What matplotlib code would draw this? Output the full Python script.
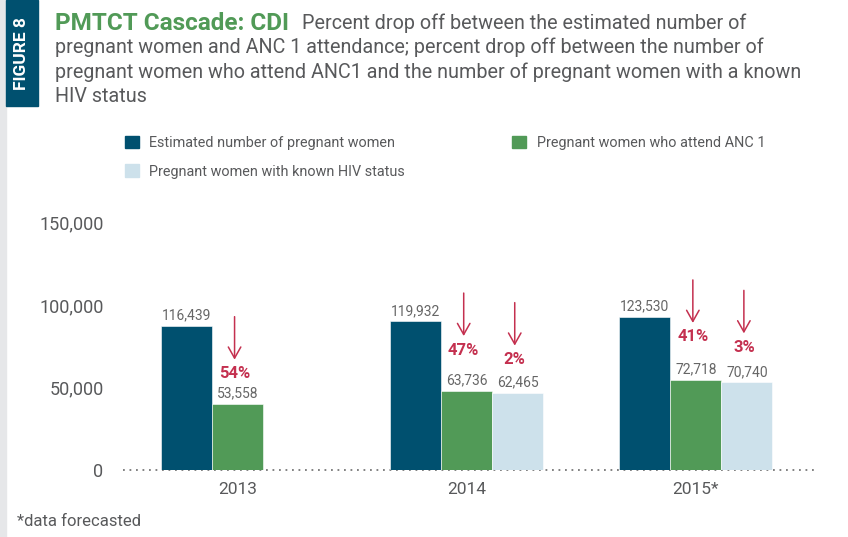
import matplotlib.pyplot as plt
from matplotlib.patches import Rectangle, Patch

years = ["2013", "2014", "2015*"]
estimated = [116439, 119932, 123530]
anc1 = [53558, 63736, 72718]
hiv_known = [None, 62465, 70740]
drop_anc1 = ["54%", "47%", "41%"]
drop_hiv = [None, "2%", "3%"]
tick_labels = ["0", "50,000", "100,000", "150,000"]
tick_values = [0, 50000, 100000, 150000]

DARK = "#00506f"
GREEN = "#519a57"
LIGHT = "#cde1eb"
RED = "#c4304f"
GREY = "#58595b"
FONT = "Roboto"

W, H = 848, 537
fig = plt.figure(figsize=(W / 100, H / 100), dpi=100)

# left grey strip and the "FIGURE 8" tab
fig.patches.append(Rectangle((0, 0), 6 / W, 1, transform=fig.transFigure,
                             color="#e6e7e9", zorder=0))
fig.patches.append(Rectangle((6 / W, 1 - 106 / H), 32 / W, 106 / H,
                             transform=fig.transFigure, color=DARK, zorder=1))
fig.text(22 / W, 1 - 54 / H, "FIGURE 8", rotation=90, color="white",
         fontsize=12.5, fontweight="bold", family=FONT,
         ha="center", va="center")

# title block
t = fig.text(55 / W, 1 - 23 / H, "PMTCT Cascade: CDI", color=GREEN,
             fontsize=17.5, fontweight="bold", family=FONT,
             ha="left", va="center")
fig.canvas.draw()
bb = t.get_window_extent()
sub = dict(color=GREY, fontsize=14.2, family=FONT, ha="left", va="center")
fig.text((bb.x1 + 13) / W, 1 - 23 / H,
         "Percent drop off between the estimated number of", **sub)
lines = ["pregnant women and ANC 1 attendance; percent drop off between the number of",
         "pregnant women who attend ANC1 and the number of pregnant women with a known",
         "HIV status"]
for k, line in enumerate(lines):
    fig.text(55 / W, 1 - (47.5 + 24.5 * k) / H, line, **sub)

# axes
ax = fig.add_axes([123 / W, 1 - 470 / H, (815 - 123) / W, 270 / H])
ymax = 218000
ax.set_ylim(0, ymax)
ax.set_xlim(-0.5, 2.52)
for s in ax.spines.values():
    s.set_visible(False)
ax.axhline(0, color="#777777", lw=1.3, ls=(0, (1, 2.6)), zorder=1, clip_on=False)

w = 51 / 229
px = ymax / 270  # data units per pixel

for i in range(len(years)):
    series = [(estimated[i], DARK), (anc1[i], GREEN), (hiv_known[i], LIGHT)]
    for j, (v, c) in enumerate(series):
        if v is None:
            continue
        x = i + (j - 1) * w
        ax.bar(x, v, width=w, color=c, edgecolor="white", linewidth=0.4, zorder=2)
        ax.annotate(f"{v:,}", (x, v), xytext=(0, 2.5), textcoords="offset points",
                    ha="center", va="bottom", fontsize=10, color="#666666",
                    family=FONT)

# drop-off arrows
pct_off = [[30, 41, 43], [None, 33, 35]]
for row, (labels, base) in enumerate([(drop_anc1, anc1), (drop_hiv, hiv_known)]):
    for i, lab in enumerate(labels):
        if lab is None:
            continue
        x = i + row * w - 3 / 229
        y = base[i] + pct_off[row][i] * px
        ax.text(x, y, lab, ha="center", va="center", color=RED,
                fontsize=12, fontweight="bold", family=FONT)
        ax.annotate("", xy=(x, y + 14 * px), xytext=(x, y + 57 * px),
                    arrowprops=dict(arrowstyle="->,head_length=0.8,head_width=0.45",
                                    color=RED, lw=1.1, shrinkA=0, shrinkB=0))

ax.set_xticks(range(len(years)))
ax.set_xticklabels(years, fontsize=12.5, color=GREY, family=FONT)
# the source draws its axis at 3/4 of the bar scale
ax.set_yticks([v * 4 / 3 for v in tick_values])
ax.set_yticklabels(tick_labels, fontsize=13, color=GREY, family=FONT)
ax.tick_params(axis="both", length=0)
ax.tick_params(axis="y", pad=14)
ax.tick_params(axis="x", pad=9)

handles = [Patch(color=DARK, label="Estimated number of pregnant women"),
           Patch(color=LIGHT, label="Pregnant women with known HIV status"),
           Patch(color=GREEN, label="Pregnant women who attend ANC 1")]
fig.legend(handles=handles, ncol=2, loc="upper left",
           bbox_to_anchor=(119 / W, 1 - 130 / H), frameon=False,
           prop={"family": FONT, "size": 10.4}, labelcolor=GREY,
           handlelength=0.95, handleheight=0.95, handletextpad=0.75,
           columnspacing=7.4, labelspacing=1.0, borderaxespad=0)

fig.text(17 / W, 1 - 522 / H, "*data forecasted", fontsize=12, color=GREY,
         family=FONT, ha="left", va="center")

fig.savefig("out.png", dpi=100)
